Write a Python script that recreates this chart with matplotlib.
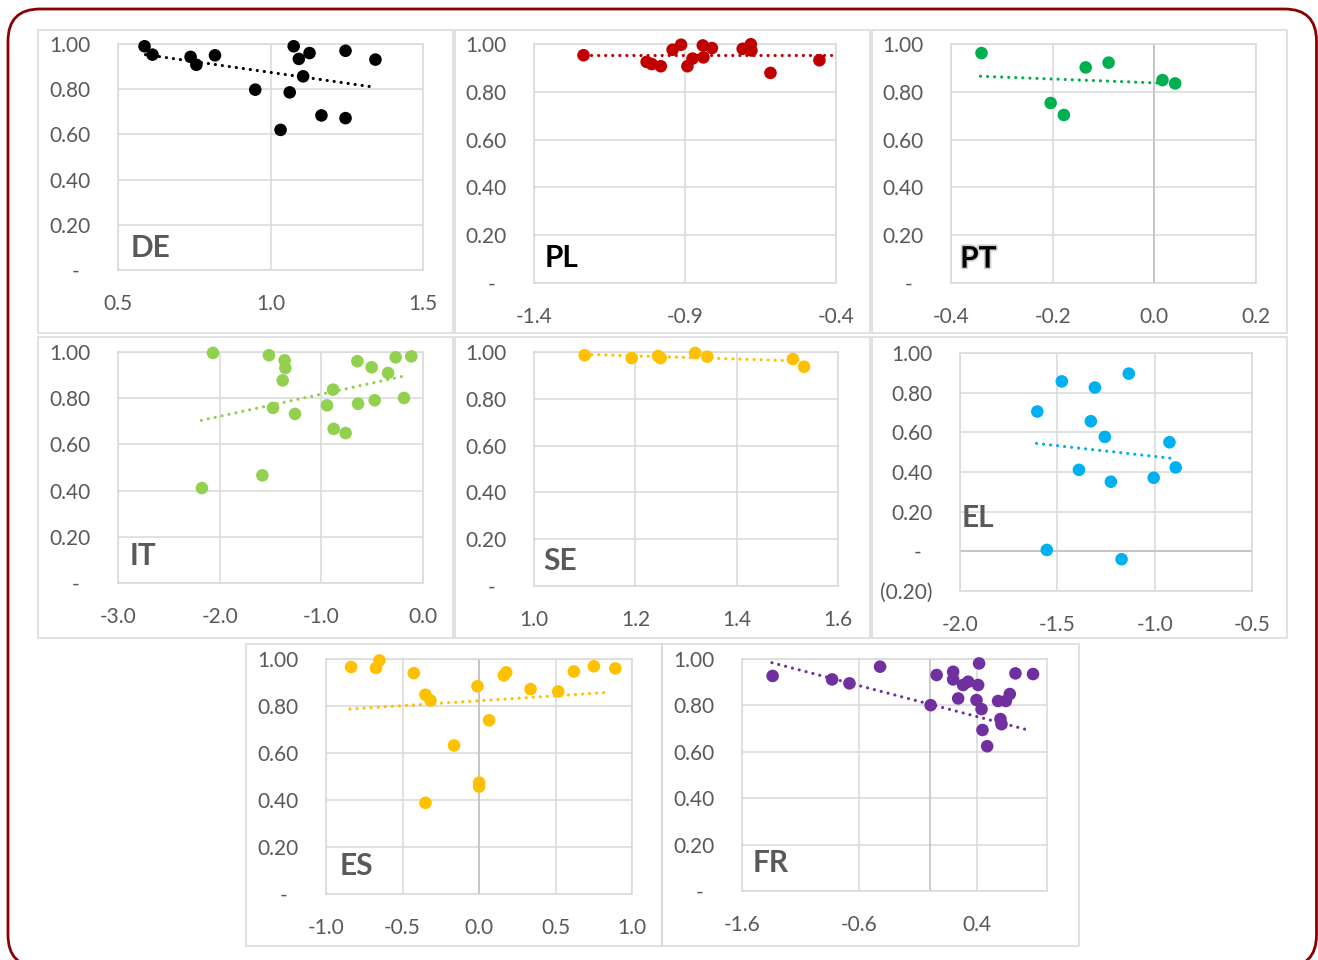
import matplotlib
matplotlib.use("Agg")
import matplotlib.pyplot as plt
import matplotlib.patches as mpatch
import matplotlib.patheffects as pe
from matplotlib.transforms import IdentityTransform
from matplotlib.ticker import FuncFormatter

W, H = 1318, 960
DPI = 100

# ---- data ----
panels = ["DE", "PL", "PT", "IT", "SE", "EL", "ES", "FR"]
colors = ["#000000", "#C00000", "#00B050", "#92D050", "#FFC000", "#00B0F0", "#FFC000", "#7030A0"]

de_x = [0.587, 0.613, 0.738, 0.757, 0.818, 0.950, 1.076, 1.093, 1.128, 1.063, 1.107, 1.167, 1.246, 1.246, 1.344, 1.033]
de_y = [0.990, 0.953, 0.943, 0.908, 0.950, 0.798, 0.990, 0.934, 0.960, 0.786, 0.857, 0.684, 0.970, 0.672, 0.931, 0.620]
de_trend_x = [0.590, 1.325]
de_trend_y = [0.953, 0.812]

pl_x = [-1.236, -1.027, -1.010, -0.980, -0.941, -0.913, -0.892, -0.875, -0.841, -0.839, -0.811, -0.709, -0.682, -0.680, -0.617, -0.455]
pl_y = [0.953, 0.925, 0.916, 0.907, 0.976, 0.997, 0.907, 0.939, 0.994, 0.944, 0.983, 0.980, 0.999, 0.973, 0.879, 0.932]
pl_trend_x = [-1.236, -0.400]
pl_trend_y = [0.953, 0.953]

pt_x = [-0.340, -0.204, -0.178, -0.135, -0.090, 0.016, 0.041]
pt_y = [0.962, 0.753, 0.703, 0.902, 0.922, 0.849, 0.835]
pt_trend_x = [-0.342, 0.005]
pt_trend_y = [0.865, 0.837]

it_x = [-2.066, -2.174, -1.515, -1.361, -1.354, -1.380, -1.475, -1.259, -1.580, -0.885, -0.944,
        -0.879, -0.761, -0.646, -0.639, -0.505, -0.475, -0.344, -0.269, -0.187, -0.115]
it_y = [0.996, 0.411, 0.986, 0.964, 0.931, 0.877, 0.758, 0.732, 0.466, 0.837, 0.769,
        0.667, 0.649, 0.960, 0.776, 0.934, 0.791, 0.909, 0.977, 0.801, 0.981]
it_trend_x = [-2.180, -0.164]
it_trend_y = [0.704, 0.898]

se_x = [1.100, 1.193, 1.245, 1.250, 1.318, 1.342, 1.511, 1.533]
se_y = [0.986, 0.974, 0.983, 0.974, 0.996, 0.980, 0.970, 0.937]
se_trend_x = [1.100, 1.521]
se_trend_y = [0.990, 0.962]

el_x = [-1.477, -1.307, -1.133, -1.603, -1.328, -1.256, -0.924, -0.892, -1.389, -1.225, -1.005, -1.554, -1.170]
el_y = [0.857, 0.826, 0.896, 0.705, 0.656, 0.577, 0.550, 0.423, 0.411, 0.351, 0.371, 0.007, -0.040]
el_trend_x = [-1.607, -0.902]
el_trend_y = [0.544, 0.468]

es_x = [-0.836, -0.673, -0.651, -0.426, -0.350, -0.317, -0.350, -0.163, -0.010, 0.001, 0.001,
        0.066, 0.162, 0.178, 0.337, 0.518, 0.620, 0.751, 0.891]
es_y = [0.966, 0.962, 0.994, 0.940, 0.848, 0.824, 0.388, 0.632, 0.884, 0.474, 0.457,
        0.739, 0.930, 0.943, 0.872, 0.862, 0.947, 0.969, 0.960]
es_trend_x = [-0.843, 0.847]
es_trend_y = [0.787, 0.858]

fr_x = [-1.339, -0.832, -0.684, -0.423, 0.008, 0.059, 0.200, 0.200, 0.243, 0.285, 0.328, 0.413,
        0.421, 0.399, 0.442, 0.450, 0.490, 0.583, 0.649, 0.683, 0.603, 0.612, 0.731, 0.881]
fr_y = [0.927, 0.912, 0.895, 0.967, 0.801, 0.931, 0.945, 0.912, 0.830, 0.888, 0.902, 0.888,
        0.981, 0.823, 0.784, 0.694, 0.624, 0.819, 0.819, 0.849, 0.741, 0.719, 0.938, 0.935]
fr_trend_x = [-1.345, 0.838]
fr_trend_y = [0.984, 0.694]

xs = [de_x, pl_x, pt_x, it_x, se_x, el_x, es_x, fr_x]
ys = [de_y, pl_y, pt_y, it_y, se_y, el_y, es_y, fr_y]
trend_xs = [de_trend_x, pl_trend_x, pt_trend_x, it_trend_x, se_trend_x, el_trend_x, es_trend_x, fr_trend_x]
trend_ys = [de_trend_y, pl_trend_y, pt_trend_y, it_trend_y, se_trend_y, el_trend_y, es_trend_y, fr_trend_y]

x_limits = [(0.5, 1.5), (-1.4, -0.4), (-0.4, 0.2), (-3.0, 0.0), (1.0, 1.6), (-2.0, -0.5), (-1.0, 1.0), (-1.6, 1.0)]
x_ticks = [[0.5, 1.0, 1.5], [-1.4, -0.9, -0.4], [-0.4, -0.2, 0.0, 0.2], [-3.0, -2.0, -1.0, 0.0],
           [1.0, 1.2, 1.4, 1.6], [-2.0, -1.5, -1.0, -0.5], [-1.0, -0.5, 0.0, 0.5, 1.0], [-1.6, -0.6, 0.4]]
y_limits = [(0, 1)] * 5 + [(-0.2, 1.0)] + [(0, 1)] * 2

# ---- layout (pixels) ----
# plot area: left, top, right, bottom
plot_areas = [(118, 44, 423, 270), (534, 44, 836, 283), (951, 44, 1256, 283),
              (118, 352, 423, 583), (534, 352, 838, 586), (960, 353, 1252, 591),
              (326, 659, 632, 894), (742, 659, 1047, 891)]
boxes = [(38, 30, 453, 333), (455, 30, 870, 333), (872, 30, 1287, 333),
         (38, 337, 453, 638), (455, 337, 870, 638), (872, 337, 1287, 638),
         (246, 644, 662, 946), (662, 644, 1079, 946)]
label_pos = [(0.04, 0.059), (0.036, 0.068), (0.03, 0.064), (0.038, 0.079),
             (0.032, 0.067), (0.006, 0.269), (0.046, 0.081), (0.034, 0.081)]
label_colors = ["#595959", "#000000", "#000000", "#595959", "#595959", "#595959", "#595959", "#595959"]

GRID = "#D9D9D9"
AXIS = "#BFBFBF"
TXT = "#595959"
FONT = "Lato"

plt.rcParams['font.family'] = [FONT, 'DejaVu Sans']


def fmt_y(v, pos):
    if abs(v) < 1e-9:
        return "-  "
    if v < 0:
        return "(%.2f)" % -v
    return "%.2f" % v


def fmt_x(v, pos):
    if abs(v) < 1e-9:
        return "0.0"
    return "%.1f" % v


fig = plt.figure(figsize=(W / DPI, H / DPI), dpi=DPI)
fig.patch.set_facecolor("white")

# outer rounded frame
frame = mpatch.FancyBboxPatch((8, H - 967), 1308.5, 958, boxstyle="round,pad=0,rounding_size=32",
                              transform=IdentityTransform(), fc="none", ec="#8B0000", lw=2.0)
fig.patches.append(frame)

# panel boxes
for (l, t, r, b) in boxes:
    fig.patches.append(mpatch.Rectangle((l, H - b), r - l, b - t, transform=IdentityTransform(),
                                        fc="none", ec=GRID, lw=1.1))

for i, name in enumerate(panels):
    l, t, r, b = plot_areas[i]
    ax = fig.add_axes([l / W, 1 - b / H, (r - l) / W, (b - t) / H])
    ax.set_xlim(*x_limits[i])
    ax.set_ylim(*y_limits[i])
    ax.set_xticks(x_ticks[i])
    y0, y1 = y_limits[i]
    yt = [round(y0 + 0.2 * k, 2) for k in range(int(round((y1 - y0) / 0.2)) + 1)]
    ax.set_yticks(yt)
    ax.xaxis.set_major_formatter(FuncFormatter(fmt_x))
    ax.yaxis.set_major_formatter(FuncFormatter(fmt_y))
    ax.tick_params(length=0, labelsize=15, labelcolor=TXT)
    ax.tick_params(axis="y", pad=20)
    ax.tick_params(axis="x", pad=17.5)
    ax.grid(True, color=GRID, lw=1.1)
    ax.set_axisbelow(True)
    for sp in ax.spines.values():
        sp.set_color(GRID)
        sp.set_linewidth(1.1)
    if x_limits[i][0] < 0 < x_limits[i][1]:
        ax.axvline(0, color=AXIS, lw=1.1, zorder=1)
    if y_limits[i][0] < 0 < y_limits[i][1]:
        ax.axhline(0, color=AXIS, lw=1.1, zorder=1)

    ax.plot(trend_xs[i], trend_ys[i], color=colors[i], lw=2.3,
            linestyle=(0, (0.01, 2.2)), dash_capstyle="round", zorder=3)
    ax.scatter(xs[i], ys[i], s=82, color=colors[i], edgecolors="none", zorder=4, clip_on=False)

    txt = ax.text(label_pos[i][0], label_pos[i][1], name, transform=ax.transAxes,
                  fontsize=21.5, fontweight="bold", color=label_colors[i],
                  ha="left", va="baseline", zorder=5)
    if name == "PT":
        txt.set_path_effects([pe.withStroke(linewidth=2.5, foreground="#CFCFCF")])

fig.savefig("out.png", dpi=DPI, facecolor="white")
